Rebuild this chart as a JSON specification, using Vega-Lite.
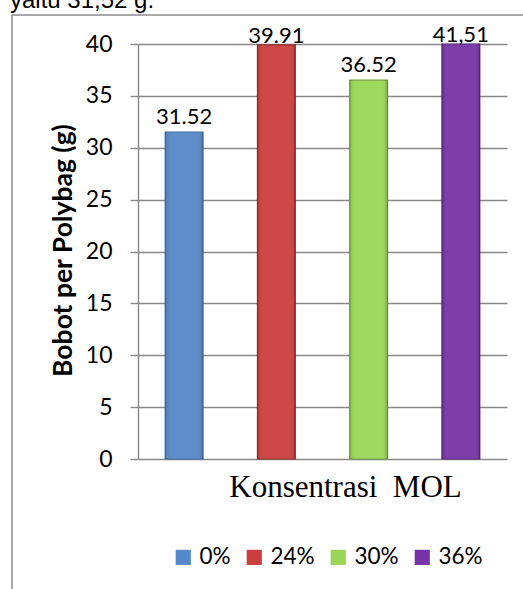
{
  "$schema": "https://vega.github.io/schema/vega-lite/v6.json",
  "autosize": "none",
  "width": 511,
  "height": 574,
  "padding": {"left": 12, "top": 15, "right": 0, "bottom": 0},
  "background": "white",
  "title": {
    "text": "yaitu 31,52 g.",
    "anchor": "start",
    "frame": "group",
    "dx": -2,
    "dy": 17,
    "offset": 0,
    "baseline": "alphabetic",
    "font": "Liberation Sans",
    "fontSize": 24,
    "fontWeight": "normal",
    "color": "#000000"
  },
  "data": {
    "values": [
      {"konsentrasi": "0%", "bobot": 31.52, "label": "31.52"},
      {"konsentrasi": "24%", "bobot": 39.91, "label": "39.91"},
      {"konsentrasi": "30%", "bobot": 36.52, "label": "36.52"},
      {"konsentrasi": "36%", "bobot": 41.51, "label": "41,51"}
    ]
  },
  "encoding": {
    "x": {
      "field": "konsentrasi",
      "type": "nominal",
      "sort": ["0%", "24%", "30%", "36%"],
      "scale": {"range": [126, 495], "paddingInner": 0.59, "paddingOuter": 0.295},
      "axis": {
        "title": "Konsentrasi\u00a0 MOL",
        "labels": false,
        "ticks": false,
        "domain": false,
        "grid": false,
        "titleFont": "Liberation Serif",
        "titleFontSize": 31,
        "titleFontWeight": "normal",
        "titleColor": "#000000",
        "titleX": 333,
        "titleY": -93,
        "titleAlign": "center",
        "titleBaseline": "alphabetic"
      }
    },
    "y": {
      "field": "bobot",
      "type": "quantitative",
      "scale": {"domain": [0, 40], "range": [444, 29], "clamp": true, "nice": false},
      "axis": {
        "title": "Bobot per Polybag (g)",
        "offset": -126,
        "values": [0, 5, 10, 15, 20, 25, 30, 35, 40],
        "grid": true,
        "gridColor": "#888888",
        "gridWidth": 1.4,
        "domain": true,
        "domainColor": "#888888",
        "domainWidth": 1.4,
        "ticks": true,
        "tickSize": 8,
        "tickColor": "#888888",
        "tickWidth": 1.4,
        "labelPadding": 18,
        "labelFont": "Lato",
        "labelFontSize": 23,
        "labelColor": "#000000",
        "titleFont": "Lato",
        "titleFontSize": 26.5,
        "titleFontWeight": "bold",
        "titleColor": "#000000",
        "titleX": -75,
        "titleY": 235,
        "titleAngle": -90,
        "titleAlign": "center",
        "titleBaseline": "middle"
      }
    }
  },
  "layer": [
    {
      "mark": {"type": "bar", "strokeWidth": 1.2},
      "encoding": {
        "color": {
          "field": "konsentrasi",
          "type": "nominal",
          "sort": ["0%", "24%", "30%", "36%"],
          "scale": {
            "domain": ["0%", "24%", "30%", "36%"],
            "range": ["#5588C8", "#CC3E3E", "#9AD656", "#7634A6"]
          },
          "legend": {
            "orient": "none",
            "legendX": 160,
            "legendY": 531,
            "direction": "horizontal",
            "gridAlign": "each",
            "title": null,
            "symbolType": "square",
            "symbolSize": 230,
            "symbolStrokeWidth": 0,
            "symbolOpacity": 1,
            "labelFont": "Lato",
            "labelFontSize": 22.5,
            "labelColor": "#000000",
            "labelOffset": 5,
            "columnPadding": 12,
            "padding": 0
          }
        },
        "stroke": {
          "field": "konsentrasi",
          "type": "nominal",
          "scale": {
            "domain": ["0%", "24%", "30%", "36%"],
            "range": ["#3D6AA3", "#932B29", "#6E9B3A", "#55247D"]
          },
          "legend": null
        }
      }
    },
    {
      "mark": {
        "type": "bar",
        "color": {
          "gradient": "linear",
          "x1": 0, "x2": 1, "y1": 0, "y2": 0,
          "stops": [
            {"offset": 0, "color": "rgba(0,0,0,0.14)"},
            {"offset": 0.14, "color": "rgba(255,255,255,0.05)"},
            {"offset": 0.86, "color": "rgba(255,255,255,0.05)"},
            {"offset": 1, "color": "rgba(0,0,0,0.2)"}
          ]
        }
      }
    },
    {
      "transform": [{"filter": "datum.bobot < 39"}],
      "mark": {
        "type": "text",
        "baseline": "alphabetic",
        "dy": -8,
        "font": "Lato",
        "fontSize": 22,
        "color": "#000000"
      },
      "encoding": {"text": {"field": "label"}}
    },
    {
      "transform": [{"filter": "datum.bobot >= 39"}],
      "mark": {
        "type": "text",
        "baseline": "alphabetic",
        "dy": -2,
        "font": "Lato",
        "fontSize": 22,
        "color": "#000000"
      },
      "encoding": {"text": {"field": "label"}}
    }
  ],
  "config": {
    "view": {
      "stroke": "#8c8c8c",
      "strokeWidth": 1.5,
      "strokeDash": [511, 1085, 574]
    }
  }
}
